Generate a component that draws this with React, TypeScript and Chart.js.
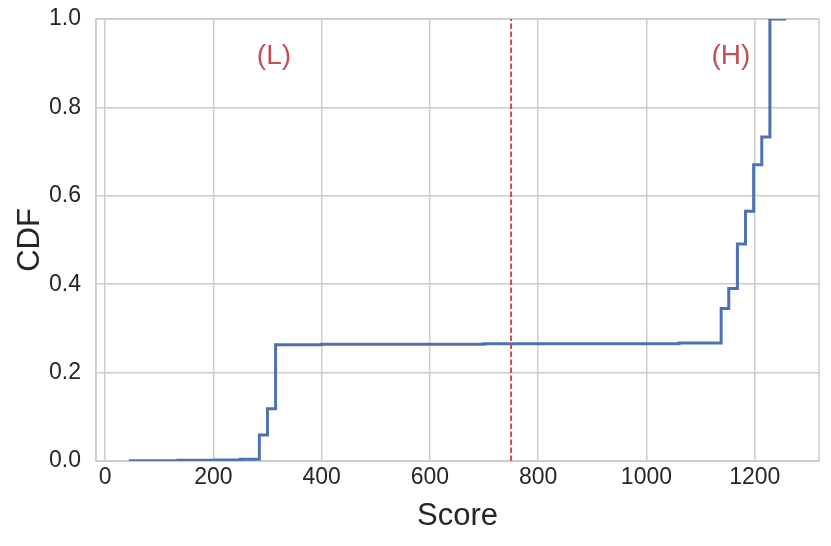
import React, { useEffect, useRef } from "react";
import { Chart, registerables } from "chart.js";

Chart.register(...registerables);

// ECDF steps (score, cumulative fraction)
const scoreValues = [44, 135, 205, 250, 285, 300, 315, 400, 700, 1060, 1138, 1152, 1168, 1183, 1198, 1213, 1228, 1258];
const cdfValues = [0.0005, 0.0015, 0.0025, 0.004, 0.059, 0.118, 0.263, 0.264, 0.265, 0.267, 0.345, 0.39, 0.491, 0.565, 0.67, 0.733, 1.0, 1.0];

// Threshold line
const thresholdScore = 750;
const thresholdRange = [0, 1];

// Axis ticks
const xTicks = [0, 200, 400, 600, 800, 1000, 1200];
const yTicks = [0, 0.2, 0.4, 0.6, 0.8, 1.0];
const xLimits = [-16.7, 1318.7];
const yLimits = [0, 1];

// Annotations
const annotationLabels = ["(L)", "(H)"];
const annotationX = [312, 1156];
const annotationY = [0.915, 0.915];

const FONT = "'Liberation Sans', Arial, Helvetica, sans-serif";
const TEXT = "#262626";
const GRID = "#cccccc";
const BLUE = "#4c72b0";
const RED = "#c44e52";

const framePlugin = {
  id: "frame",
  beforeDatasetsDraw(chart: any) {
    const { ctx, chartArea } = chart;
    ctx.save();
    ctx.strokeStyle = GRID;
    ctx.lineWidth = 1.5;
    ctx.strokeRect(chartArea.left, chartArea.top, chartArea.right - chartArea.left, chartArea.bottom - chartArea.top);
    ctx.restore();
  },
};

const annotationPlugin = {
  id: "annotations",
  afterDatasetsDraw(chart: any) {
    const { ctx, scales } = chart;
    ctx.save();
    ctx.fillStyle = RED;
    ctx.font = `28px ${FONT}`;
    ctx.textAlign = "center";
    ctx.textBaseline = "middle";
    annotationLabels.forEach((label, i) => {
      const px = scales.x.getPixelForValue(annotationX[i]);
      const py = scales.y.getPixelForValue(annotationY[i]);
      ctx.fillText(label, px, py);
    });
    ctx.restore();
  },
};

export default function App() {
  const canvasRef = useRef<HTMLCanvasElement | null>(null);

  useEffect(() => {
    if (!canvasRef.current) return;
    const ecdf = scoreValues.map((x, i) => ({ x, y: cdfValues[i] }));
    const threshold = thresholdRange.map((y) => ({ x: thresholdScore, y }));

    const chart = new Chart(canvasRef.current, {
      type: "line",
      data: {
        datasets: [
          {
            label: "threshold",
            data: threshold,
            borderColor: RED,
            borderWidth: 2,
            borderDash: [5.5, 2.5],
            pointRadius: 0,
            fill: false,
          },
          {
            label: "ECDF",
            data: ecdf,
            borderColor: BLUE,
            borderWidth: 3,
            stepped: "before",
            pointRadius: 0,
            fill: false,
            borderCapStyle: "butt",
            borderJoinStyle: "miter",
          },
        ],
      },
      options: {
        responsive: false,
        animation: false,
        devicePixelRatio: 1,
        layout: { padding: { top: 19, right: 12, bottom: 0, left: 0 } },
        plugins: {
          legend: { display: false },
          tooltip: { enabled: false },
        },
        scales: {
          x: {
            type: "linear",
            min: xLimits[0],
            max: xLimits[1],
            afterBuildTicks: (axis: any) => {
              axis.ticks = xTicks.map((v) => ({ value: v }));
            },
            afterFit: (axis: any) => {
              axis.height = 85;
              axis.paddingLeft = 0;
              axis.paddingRight = 0;
            },
            ticks: {
              color: TEXT,
              font: { family: FONT, size: 23 },
              padding: 3,
              maxRotation: 0,
              autoSkip: false,
              callback: (v: any) => String(v),
            },
            grid: { color: GRID, lineWidth: 1.5, drawTicks: false },
            border: { display: true, color: GRID, width: 1.5 },
            title: {
              display: true,
              text: "Score",
              color: TEXT,
              font: { family: FONT, size: 31 },
              padding: { top: 0, bottom: 11 },
            },
          },
          y: {
            type: "linear",
            min: yLimits[0],
            max: yLimits[1],
            afterBuildTicks: (axis: any) => {
              axis.ticks = yTicks.map((v) => ({ value: v }));
            },
            afterFit: (axis: any) => {
              axis.width = 96;
              axis.paddingTop = 0;
              axis.paddingBottom = 0;
            },
            ticks: {
              color: TEXT,
              font: { family: FONT, size: 23 },
              padding: 15,
              autoSkip: false,
              callback: (v: any) => Number(v).toFixed(1),
            },
            grid: { color: GRID, lineWidth: 1.5, drawTicks: false },
            border: { display: true, color: GRID, width: 1.5 },
            title: {
              display: true,
              text: "CDF",
              color: TEXT,
              font: { family: FONT, size: 31 },
              padding: { top: 12, bottom: 0 },
            },
          },
        },
      },
      plugins: [framePlugin, annotationPlugin],
    } as any);

    return () => chart.destroy();
  }, []);

  return (
    <div style={{ position: "absolute", left: 0, top: 0, width: 831, height: 546, background: "#ffffff" }}>
      <canvas ref={canvasRef} width={831} height={546} style={{ width: 831, height: 546, display: "block" }} />
    </div>
  );
}
